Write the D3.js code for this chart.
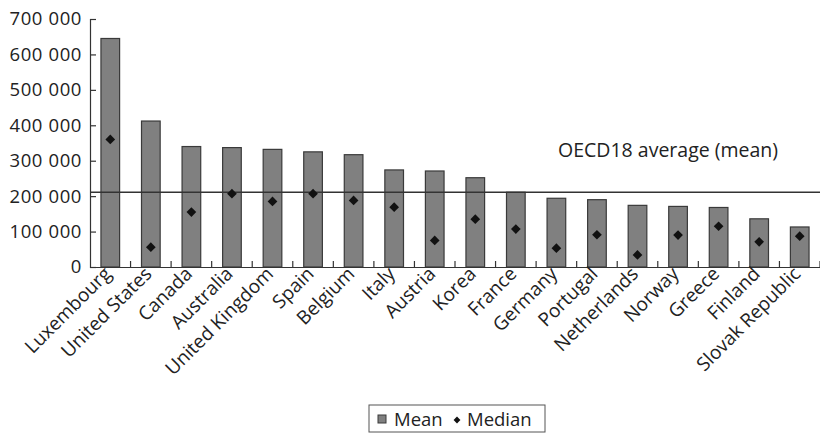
<!DOCTYPE html>
<html><head><meta charset="utf-8">
<script src="https://cdn.jsdelivr.net/npm/d3@7"></script>
<style>
body{margin:0;background:#fff;}
svg text{font-family:"Open Sans",sans-serif;fill:#222;}
</style></head>
<body><svg id="c" width="820" height="433"></svg>
<script>
const categories = ["Luxembourg","United States","Canada","Australia","United Kingdom","Spain","Belgium","Italy","Austria","Korea","France","Germany","Portugal","Netherlands","Norway","Greece","Finland","Slovak Republic"];
const meanValues = [645000,412000,340000,337000,332000,325000,317000,274000,271000,252000,211000,194000,190000,174000,171000,168000,136000,113000];
const medianValues = [360000,56000,155000,207000,185000,207000,188000,169000,75000,135000,107000,53000,91000,34000,90000,115000,71000,87000];
const oecdAverage = 211000;
const oecdLabel = "OECD18 average (mean)";
const yTicks = [0,100000,200000,300000,400000,500000,600000,700000];
const legendLabels = ["Mean","Median"];

const svg = d3.select("#c");
const mL = 90, mR = 820, mT = 19, mB = 267;
const x = d3.scaleBand().domain(categories).range([mL, mR]).paddingInner(0.54).paddingOuter(0.27);
const xb = d3.scaleBand().domain(categories).range([mL, mR]);
const y = d3.scaleLinear().domain([0,700000]).range([mB, mT]);
const fmt = v => v === 0 ? "0" : d3.format(",")(v).replace(/,/g, " ");

// bars
svg.selectAll("rect.bar").data(categories).join("rect")
  .attr("class","bar")
  .attr("x", d => x(d)).attr("width", x.bandwidth())
  .attr("y", (d,i) => y(meanValues[i])).attr("height", (d,i) => mB - y(meanValues[i]))
  .attr("fill","#808080").attr("stroke","#3a3a3a").attr("stroke-width",1.2);

// y axis
const ya = svg.append("g").attr("transform",`translate(${mL},0)`)
  .call(d3.axisLeft(y).tickValues(yTicks).tickFormat(fmt).tickSize(-6).tickPadding(8));
ya.select(".domain").attr("stroke","#333").attr("stroke-width",1.2);
ya.selectAll(".tick line").attr("stroke","#333").attr("stroke-width",1.2);
ya.selectAll("text").attr("font-size","18.5px").attr("letter-spacing","0.6px").attr("fill","#222").attr("font-family","'Open Sans',sans-serif");

// x axis
const xa = svg.append("g").attr("transform",`translate(0,${mB})`)
  .call(d3.axisBottom(xb).tickSize(0).tickFormat(""));
xa.select(".domain").attr("stroke","#333").attr("stroke-width",1.2);
// separator ticks
svg.selectAll("line.sep").data(categories).join("line")
  .attr("class","sep")
  .attr("x1", d => xb(d) + xb.bandwidth()).attr("x2", d => xb(d) + xb.bandwidth())
  .attr("y1", mB).attr("y2", mB-6).attr("stroke","#333").attr("stroke-width",1.2);

// labels
svg.selectAll("text.xl").data(categories).join("text")
  .attr("class","xl")
  .attr("transform", d => `translate(${xb(d)+xb.bandwidth()/2+2},${mB+8}) rotate(-45)`)
  .attr("text-anchor","end").attr("font-size","19px").text(d => d);

// average line
svg.append("line").attr("x1",mL).attr("x2",mR).attr("y1",y(oecdAverage)).attr("y2",y(oecdAverage))
  .attr("stroke","#333").attr("stroke-width",1.3);
svg.append("text").attr("x",558).attr("y",157).attr("font-size","19.5px").text(oecdLabel);

// median diamonds
const diamond = d3.symbol().type(d3.symbolDiamond2).size(60);
svg.selectAll("path.med").data(categories).join("path")
  .attr("class","med")
  .attr("transform",(d,i)=>`translate(${xb(d)+xb.bandwidth()/2},${y(medianValues[i])})`)
  .attr("d", diamond).attr("fill","#111");

// legend
const lg = svg.append("g");
lg.append("rect").attr("x",369).attr("y",405).attr("width",176).attr("height",27)
  .attr("fill","#fff").attr("stroke","#555").attr("stroke-width",1);
lg.append("rect").attr("x",378).attr("y",415).attr("width",8).attr("height",8)
  .attr("fill","#808080").attr("stroke","#3a3a3a");
lg.append("text").attr("x",394).attr("y",426).attr("font-size","18.5px").text(legendLabels[0]);
lg.append("path").attr("transform","translate(457,420)").attr("d", d3.symbol().type(d3.symbolDiamond2).size(30)).attr("fill","#111");
lg.append("text").attr("x",467).attr("y",426).attr("font-size","18.5px").text(legendLabels[1]);
</script></body></html>
